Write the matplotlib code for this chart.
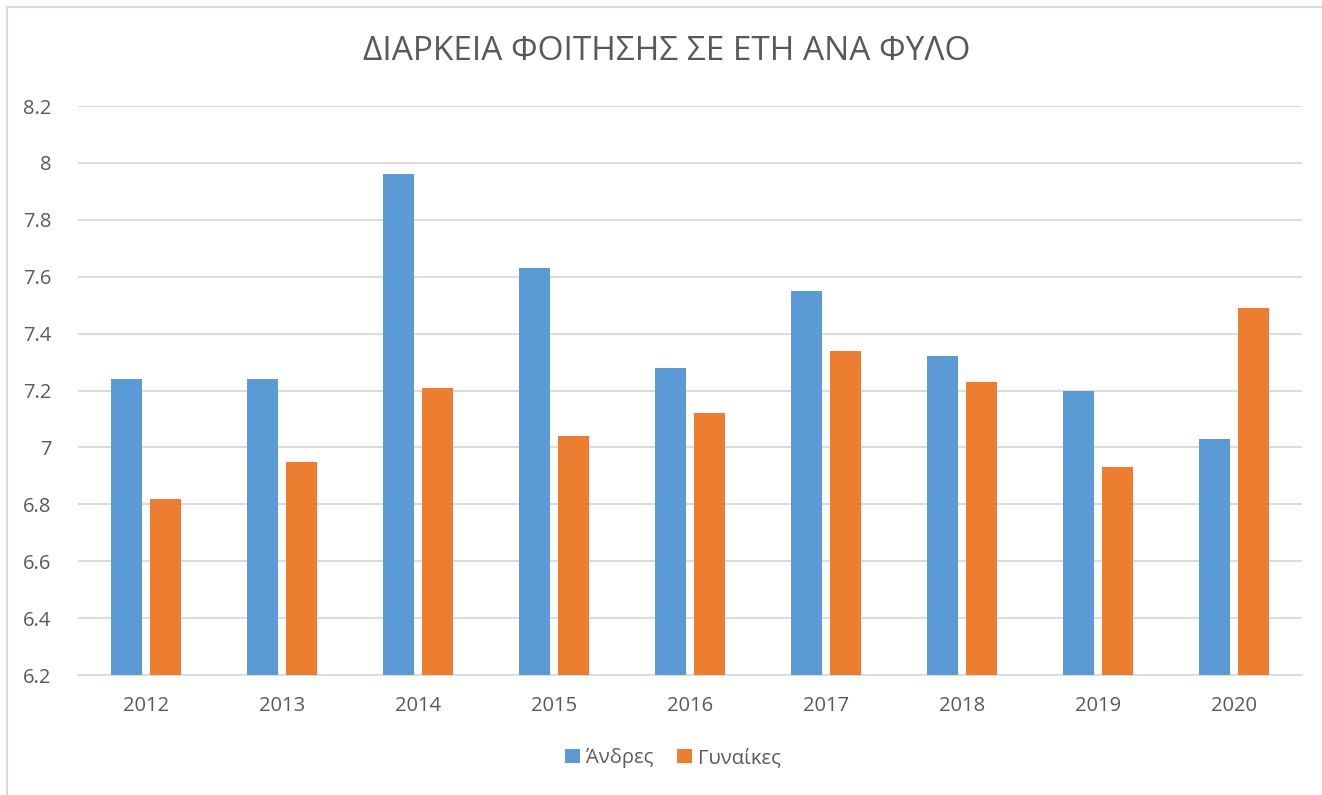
import numpy as np
import matplotlib.pyplot as plt
from matplotlib.lines import Line2D
from matplotlib.ticker import FuncFormatter

years = ["2012", "2013", "2014", "2015", "2016", "2017", "2018", "2019", "2020"]
men = [7.24, 7.24, 7.96, 7.63, 7.28, 7.55, 7.32, 7.20, 7.03]
women = [6.82, 6.95, 7.21, 7.04, 7.12, 7.34, 7.23, 6.93, 7.49]
labels = ["Άνδρες", "Γυναίκες"]
title = "ΔΙΑΡΚΕΙΑ ΦΟΙΤΗΣΗΣ ΣΕ ΕΤΗ ΑΝΑ ΦΥΛΟ"

blue = "#5B9BD5"
orange = "#ED7D31"
grid = "#D9D9D9"
txt = "#595959"

plt.rcParams['font.family'] = ['Open Sans', 'DejaVu Sans']

W, H = 1322, 795
fig = plt.figure(figsize=(W / 100, H / 100), dpi=100)
ax = fig.add_axes([78 / W, 1 - 675 / H, (1302 - 78) / W, (675 - 106) / H])

x = np.arange(len(years))
bw = 0.228
off = 0.143
ax.bar(x - off, men, bw, color=blue, label=labels[0], zorder=3)
ax.bar(x + off, women, bw, color=orange, label=labels[1], zorder=3)

ax.set_xlim(-0.5, len(years) - 0.5)
ax.set_ylim(6.2, 8.2)
ax.set_yticks(np.arange(6.2, 8.21, 0.2))
ax.yaxis.set_major_formatter(FuncFormatter(lambda v, p: f"{round(v, 1):g}"))
ax.set_xticks(x)
ax.set_xticklabels(years)
ax.tick_params(axis='both', length=0, colors=txt, labelsize=14.5)
ax.tick_params(axis='y', pad=19)
ax.tick_params(axis='x', pad=15)
ax.grid(axis='y', color=grid, linewidth=1.3, zorder=0)
for s in ["top", "right", "left"]:
    ax.spines[s].set_visible(False)
ax.spines["bottom"].set_color(grid)
ax.spines["bottom"].set_linewidth(1.3)

fig.text(667 / W, 1 - 51 / H, title, ha='center', va='center', fontsize=24,
         color=txt)

fig.legend(loc='center', bbox_to_anchor=(673 / W, 1 - 758 / H), ncol=2, frameon=False,
           fontsize=14.5, labelcolor=txt, handlelength=0.75, handleheight=0.75,
           handletextpad=0.3, columnspacing=1.2)

# chart area border: only top and left edges are visible in the picture
fig.lines.append(Line2D([7 / W, 1], [1 - 7 / H, 1 - 7 / H], transform=fig.transFigure,
                        color=grid, linewidth=1.5))
fig.lines.append(Line2D([7 / W, 7 / W], [1 - 7 / H, 0], transform=fig.transFigure,
                        color=grid, linewidth=1.5))

fig.savefig("out.png", dpi=100, facecolor="white")
